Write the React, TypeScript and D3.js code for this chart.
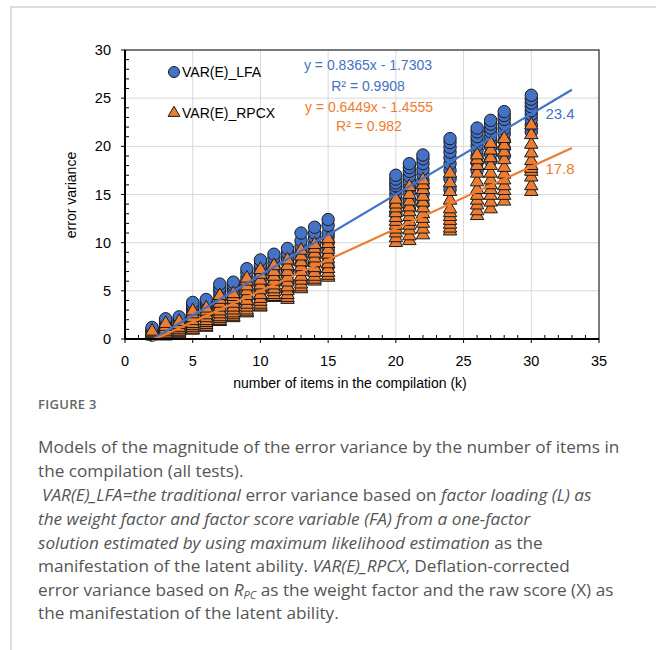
import React from 'react'
import * as d3 from 'd3'

// k values (number of items in compilation)
const kValues = [2, 3, 4, 5, 6, 7, 8, 9, 10, 11, 12, 13, 14, 15, 20, 21, 22, 24, 26, 27, 28, 30]

// VAR(E)_LFA values for each k (same order as kValues)
const lfaByK = [
  [0.4, 0.6, 0.7, 0.8, 0.9, 1.0, 1.2],
  [0.8, 1.1, 1.3, 1.5, 1.7, 1.9, 2.1],
  [1.0, 1.3, 1.5, 1.7, 1.9, 2.1, 2.3],
  [1.5, 2.0, 2.4, 2.8, 3.1, 3.3, 3.5, 3.8],
  [2.0, 2.5, 2.8, 3.2, 3.5, 3.7, 3.9, 4.1],
  [2.6, 3.2, 3.7, 4.2, 4.6, 5.0, 5.3, 5.7],
  [3.0, 3.6, 4.1, 4.5, 4.9, 5.3, 5.6, 5.9],
  [3.6, 4.3, 4.9, 5.5, 6.0, 6.4, 6.9, 7.3],
  [4.2, 5.0, 5.6, 6.2, 6.8, 7.3, 7.7, 8.2],
  [5.0, 5.7, 6.3, 6.9, 7.4, 7.9, 8.4, 8.8],
  [5.0, 5.9, 6.6, 7.2, 7.9, 8.4, 8.9, 9.4],
  [6.0, 7.0, 7.8, 8.5, 9.1, 9.6, 10.2, 11.0],
  [7.0, 7.9, 8.6, 9.3, 9.9, 10.5, 11.0, 11.6],
  [7.5, 8.5, 9.3, 10.0, 10.6, 11.0, 11.8, 12.4],
  [13.0, 13.8, 14.5, 15.0, 15.5, 15.9, 16.2, 16.6, 17.0],
  [13.5, 14.4, 15.2, 15.8, 16.4, 16.9, 17.4, 17.8, 18.2],
  [14.0, 15.0, 15.8, 16.5, 17.1, 17.6, 18.2, 18.7, 19.1],
  [15.5, 16.6, 17.5, 18.2, 18.8, 19.4, 19.9, 20.4, 20.8],
  [17.5, 18.3, 19.0, 19.6, 20.1, 20.6, 21.0, 21.5, 21.9],
  [18.5, 19.2, 19.9, 20.5, 21.0, 21.5, 21.9, 22.3, 22.7],
  [19.0, 19.8, 20.6, 21.3, 21.8, 22.3, 22.8, 23.2, 23.6],
  [21.5, 22.2, 22.8, 23.3, 23.7, 24.1, 24.5, 24.9, 25.3],
]

// VAR(E)_RPCX values for each k
const rpcxByK = [
  [0.3, 0.35, 0.4, 0.5, 0.6, 0.7, 0.8],
  [0.3, 0.4, 0.5, 0.6, 0.8, 1.0, 1.3, 1.6],
  [0.5, 0.6, 0.7, 0.8, 1.0, 1.2, 1.5, 1.8],
  [0.9, 1.0, 1.2, 1.4, 1.6, 1.9, 2.2, 2.6, 2.9],
  [1.2, 1.3, 1.5, 1.7, 1.9, 2.2, 2.5, 2.9, 3.2],
  [1.8, 1.9, 2.1, 2.3, 2.6, 2.9, 3.3, 3.7, 4.1, 4.5],
  [2.2, 2.3, 2.5, 2.7, 3.0, 3.3, 3.7, 4.1, 4.4, 4.7],
  [2.7, 2.8, 3.0, 3.3, 3.6, 4.0, 4.5, 5.0, 5.5, 6.0, 6.3],
  [3.3, 3.4, 3.6, 3.9, 4.2, 4.6, 5.1, 5.6, 6.1, 6.7, 7.2],
  [4.3, 4.4, 4.6, 4.9, 5.2, 5.6, 6.0, 6.5, 7.0, 7.6],
  [4.1, 4.3, 4.6, 5.0, 5.4, 5.9, 6.4, 7.0, 7.6, 8.2],
  [5.2, 5.4, 5.7, 6.1, 6.5, 7.0, 7.5, 8.0, 8.6, 9.2],
  [6.0, 6.2, 6.5, 6.9, 7.4, 7.9, 8.4, 8.9, 9.4, 9.8],
  [6.4, 6.6, 6.9, 7.3, 7.8, 8.3, 8.8, 9.3, 9.9, 10.4],
  [10.0, 10.5, 11.0, 11.4, 11.8, 12.2, 12.6, 13.1, 13.6, 14.0, 14.5],
  [10.2, 10.7, 11.3, 11.8, 12.2, 12.7, 13.2, 13.7, 14.3, 15.0, 15.8],
  [10.8, 11.4, 12.0, 12.5, 13.0, 13.6, 14.2, 14.8, 15.5, 16.0, 16.5],
  [11.2, 11.5, 11.9, 12.3, 12.7, 13.1, 13.5, 14.4, 15.3, 16.2, 17.2],
  [12.8, 13.3, 13.9, 14.4, 14.9, 15.5, 16.3, 17.2, 18.0, 18.6, 19.1],
  [13.5, 14.2, 14.9, 15.5, 16.0, 16.5, 17.2, 18.0, 18.8, 19.6, 20.3],
  [14.3, 14.9, 15.4, 15.9, 16.5, 17.1, 17.8, 18.6, 19.4, 20.1, 20.8],
  [15.3, 15.9, 16.8, 17.4, 17.7, 18.0, 18.5, 19.3, 20.2, 21.2, 22.2],
]

// trend lines (from the chart's equations), drawn from k=2 to k=33
const lfaFit = { slope: 0.8365, intercept: -1.7303 }
const rpcxFit = { slope: 0.6449, intercept: -1.4555 }
const fitRange = [2, 33]
const endLabels = ['23.4', '17.8']

const xTicks = [0, 5, 10, 15, 20, 25, 30, 35]
const yTicks = [0, 5, 10, 15, 20, 25, 30]

const BLUE = '#4472C4'
const ORANGE = '#ED7D31'
const AXIS_FONT = '"Liberation Sans", Arial, sans-serif'
const CAP_FONT = '"Open Sans", sans-serif'

export default function App() {
  const width = 656
  const height = 650
  const margin = { left: 125, top: 50, right: 599, bottom: 339 }

  const x = d3.scaleLinear().domain([0, 35]).range([margin.left, margin.right])
  const y = d3.scaleLinear().domain([0, 30]).range([margin.bottom, margin.top])

  const tri = d3.symbol().type(d3.symbolTriangle).size(78)()
  const fitLine = (f: { slope: number; intercept: number }) =>
    d3.line<number>().x(d => x(d)).y(d => y(f.slope * d + f.intercept))(fitRange)

  const minor = d3.range(1, 35).filter(v => v % 5 !== 0)
  const minorY = d3.range(1, 30).filter(v => v % 5 !== 0)

  const capStyle = { fontFamily: CAP_FONT, fontSize: 17.2, fill: '#555' }

  return (
    <svg width={width} height={height} style={{ position: 'absolute', left: 0, top: 0, background: '#fff' }}>
      <rect x={11} y={7} width={700} height={700} fill="#fff" stroke="#c8c8c8" strokeWidth={1.2} />

      {/* grid */}
      {xTicks.filter(t => t > 0 && t < 35).map(t => (
        <line key={'gx' + t} x1={x(t)} x2={x(t)} y1={y(0)} y2={y(30)} stroke="#d9d9d9" strokeWidth={1} />
      ))}
      {yTicks.filter(t => t > 0 && t < 30).map(t => (
        <line key={'gy' + t} x1={x(0)} x2={x(35)} y1={y(t)} y2={y(t)} stroke="#d9d9d9" strokeWidth={1} />
      ))}

      {/* plot frame */}
      <rect x={x(0)} y={y(30)} width={x(35) - x(0)} height={y(0) - y(30)} fill="none" stroke="#222" strokeWidth={1.2} />

      {/* minor ticks, inside */}
      {minor.map(t => (
        <line key={'mx' + t} x1={x(t)} x2={x(t)} y1={y(0)} y2={y(0) - 4} stroke="#000" strokeWidth={1} />
      ))}
      {minorY.map(t => (
        <line key={'my' + t} x1={x(0)} x2={x(0) + 4} y1={y(t)} y2={y(t)} stroke="#000" strokeWidth={1} />
      ))}
      {/* major ticks, outside */}
      {xTicks.map(t => (
        <line key={'Mx' + t} x1={x(t)} x2={x(t)} y1={y(0)} y2={y(0) + 4} stroke="#000" strokeWidth={1} />
      ))}
      {yTicks.map(t => (
        <line key={'My' + t} x1={x(0) - 4} x2={x(0)} y1={y(t)} y2={y(t)} stroke="#000" strokeWidth={1} />
      ))}

      {/* data: LFA circles then RPCX triangles */}
      {kValues.map((k, i) =>
        lfaByK[i].map((v, j) => (
          <circle key={`l${k}-${j}`} cx={x(k)} cy={y(v)} r={6.2} fill={BLUE} stroke="#1a1a1a" strokeWidth={1} />
        ))
      )}
      {kValues.map((k, i) =>
        rpcxByK[i].map((v, j) => (
          <path key={`r${k}-${j}`} d={tri || ''} transform={`translate(${x(k)},${y(v)})`} fill={ORANGE} stroke="#1a1a1a" strokeWidth={1} />
        ))
      )}

      {/* trend lines */}
      <path d={fitLine(lfaFit) || ''} fill="none" stroke={BLUE} strokeWidth={2.2} />
      <path d={fitLine(rpcxFit) || ''} fill="none" stroke={ORANGE} strokeWidth={2.2} />

      {/* axes lines */}
      <line x1={x(0)} x2={x(0)} y1={y(0)} y2={y(30)} stroke="#000" strokeWidth={2} />
      <line x1={x(0)} x2={x(35)} y1={y(0)} y2={y(0)} stroke="#000" strokeWidth={2} />

      {/* tick labels */}
      {xTicks.map(t => (
        <text key={'tx' + t} x={x(t)} y={y(0) + 27} textAnchor="middle" fontFamily={AXIS_FONT} fontSize={14.5} fill="#000">{t}</text>
      ))}
      {yTicks.map(t => (
        <text key={'ty' + t} x={x(0) - 14} y={y(t) + 5} textAnchor="end" fontFamily={AXIS_FONT} fontSize={14.5} fill="#000">{t}</text>
      ))}

      {/* axis titles */}
      <text x={350} y={388} textAnchor="middle" fontFamily={AXIS_FONT} fontSize={14} fill="#000">number of items in the compilation (k)</text>
      <text transform={`translate(76,195) rotate(-90)`} textAnchor="middle" fontFamily={AXIS_FONT} fontSize={14} fill="#000">error variance</text>

      {/* legend */}
      <circle cx={174} cy={72} r={5.5} fill={BLUE} stroke="#1a1a1a" strokeWidth={1} />
      <text x={182} y={77} fontFamily={AXIS_FONT} fontSize={14} fill="#000">VAR(E)_LFA</text>
      <path d={d3.symbol().type(d3.symbolTriangle).size(60)() || ''} transform="translate(174,113)" fill={ORANGE} stroke="#1a1a1a" strokeWidth={1} />
      <text x={182} y={118} fontFamily={AXIS_FONT} fontSize={14} fill="#000">VAR(E)_RPCX</text>

      {/* equations */}
      <g fontFamily={AXIS_FONT} fontSize={14} textAnchor="middle">
        <text x={368} y={70} fill={BLUE}>{`y = ${lfaFit.slope}x - ${Math.abs(lfaFit.intercept)}`}</text>
        <text x={368} y={91} fill={BLUE}>R² = 0.9908</text>
        <text x={369} y={112} fill={ORANGE}>{`y = ${rpcxFit.slope}x - ${Math.abs(rpcxFit.intercept)}`}</text>
        <text x={369} y={131} fill={ORANGE}>R² = 0.982</text>
      </g>
      <text x={560} y={119} textAnchor="middle" fontFamily={AXIS_FONT} fontSize={15} fill={BLUE}>{endLabels[0]}</text>
      <text x={560} y={174} textAnchor="middle" fontFamily={AXIS_FONT} fontSize={15} fill={ORANGE}>{endLabels[1]}</text>

      {/* caption */}
      <text x={38} y={409} fontFamily={CAP_FONT} fontSize={13} fontWeight={600} fill="#666" letterSpacing={0.3}>FIGURE 3</text>
      <g style={capStyle as any}>
        <text x={38} y={453}>Models of the magnitude of the error variance by the number of items in</text>
        <text x={38} y={477}>the compilation (all tests).</text>
        <text x={42} y={501}>
          <tspan fontStyle="italic">VAR(E)_LFA=the traditional</tspan>
          <tspan> error variance based on </tspan>
          <tspan fontStyle="italic">factor loading (L) as</tspan>
        </text>
        <text x={38} y={525} fontStyle="italic">the weight factor and factor score variable (FA) from a one-factor</text>
        <text x={38} y={549}>
          <tspan fontStyle="italic">solution estimated by using maximum likelihood estimation</tspan>
          <tspan> as the</tspan>
        </text>
        <text x={38} y={572}>
          <tspan>manifestation of the latent ability. </tspan>
          <tspan fontStyle="italic">VAR(E)_RPCX</tspan>
          <tspan>, Deflation-corrected</tspan>
        </text>
        <text x={38} y={596}>
          <tspan>error variance based on </tspan>
          <tspan fontStyle="italic">R</tspan>
          <tspan fontStyle="italic" fontSize={11} dy={3}>PC</tspan>
          <tspan dy={-3}> as the weight factor and the raw score (X) as</tspan>
        </text>
        <text x={38} y={619}>the manifestation of the latent ability.</text>
      </g>
    </svg>
  )
}
